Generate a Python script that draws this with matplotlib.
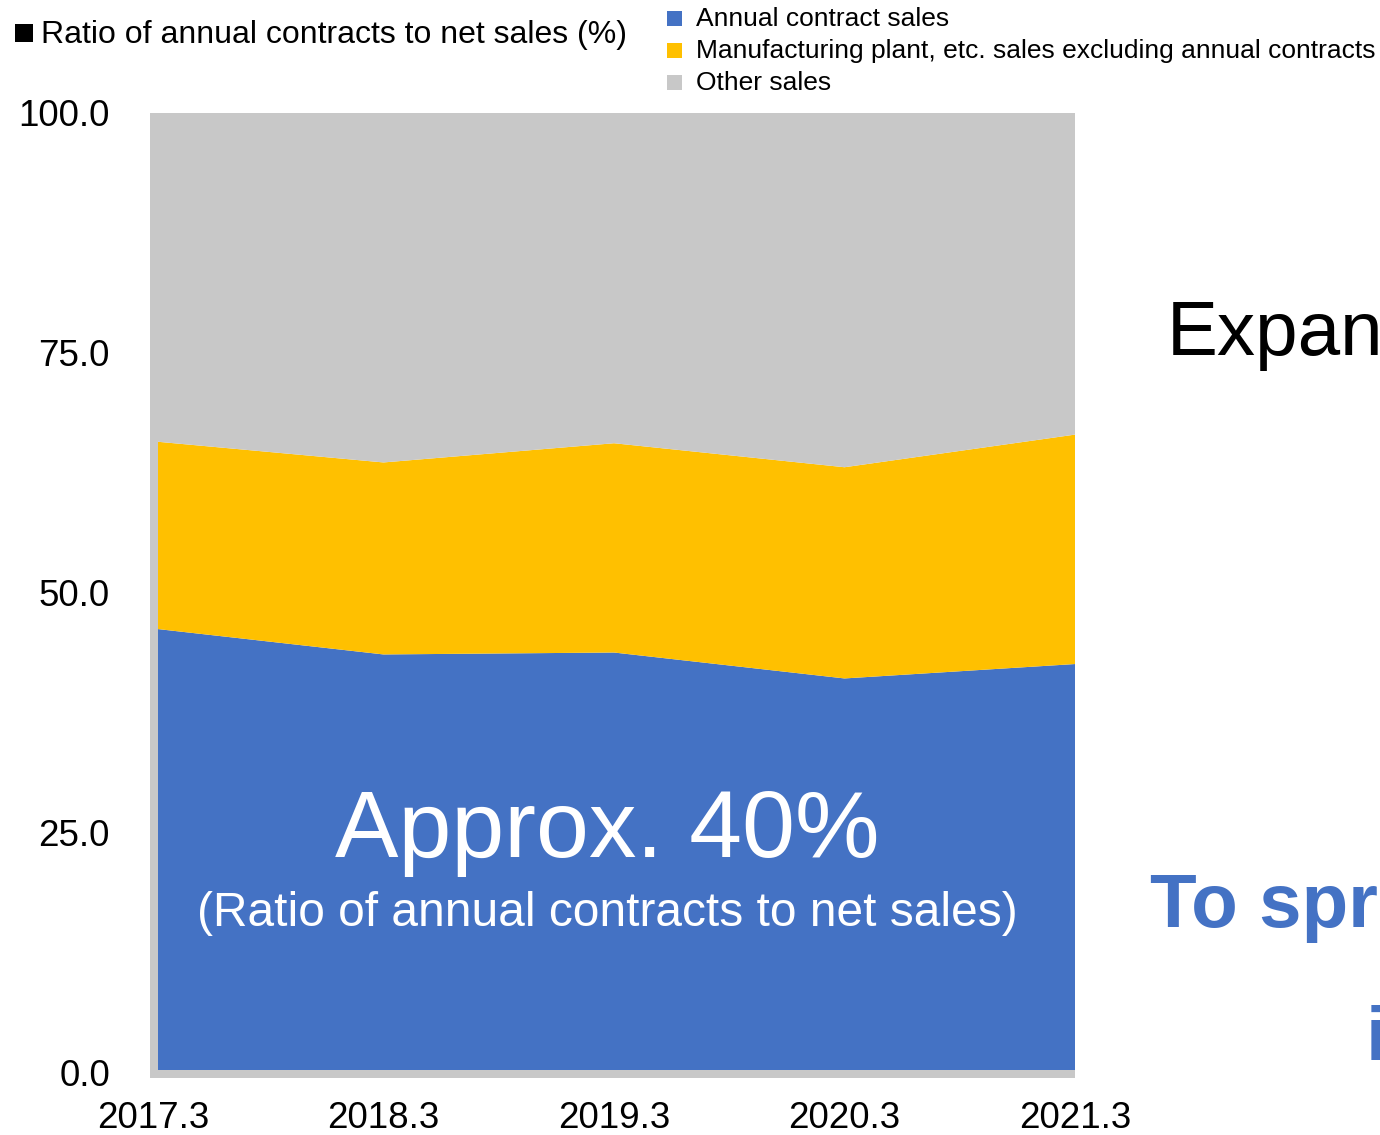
import matplotlib
matplotlib.use("Agg")
import matplotlib.pyplot as plt
from matplotlib.patches import Rectangle

plt.rcParams['font.family'] = ['Liberation Sans', 'DejaVu Sans']

# Share of net sales by type (%), fiscal years ending March
periods = ['2017.3', '2018.3', '2019.3', '2020.3', '2021.3']
annual_contract = [46.3, 43.6, 43.8, 41.1, 42.6]
plant_excl_annual = [19.5, 20.0, 21.8, 22.0, 23.9]
other_sales = [34.2, 36.4, 34.4, 36.9, 33.5]
yticks = [0, 25, 50, 75, 100]

series_labels = ['Annual contract sales',
                 'Manufacturing plant, etc. sales excluding annual contracts',
                 'Other sales']
bleu = '#4472C4'
jaune = '#FFC000'
gris = '#C8C8C8'
couleurs = [bleu, jaune, gris]

W, H = 1380, 1135


def fx(px):
    return px / W


def fy(py):
    return 1 - py / H


fig = plt.figure(figsize=(W / 100, H / 100), dpi=100)
fig.patch.set_facecolor('white')

# zone de tracé en pixels : x 153 -> 1075, y 1073 (0) -> 113 (100)
ax = fig.add_axes([fx(153), fy(1073), fx(1075) - fx(153), fy(113) - fy(1073)])
x = list(range(len(periods)))
ax.stackplot(x, annual_contract, plant_excl_annual, other_sales,
             colors=couleurs, linewidth=0)
ax.set_xlim(0, len(periods) - 1)
ax.set_ylim(0, 100)
ax.set_facecolor('none')
for s in ax.spines.values():
    s.set_visible(False)

ax.set_xticks(x)
ax.set_xticklabels(periods)
ax.set_yticks(yticks)
ax.set_yticklabels([f'{v:.1f}' for v in yticks])
ax.tick_params(axis='both', length=0, labelsize=26.5, colors='black')
ax.tick_params(axis='y', pad=31)
ax.tick_params(axis='x', pad=20)

# murs gris (gauche et bas)
fig.add_artist(Rectangle((fx(150), fy(1078)), fx(158) - fx(150), fy(113) - fy(1078),
                         transform=fig.transFigure, facecolor=gris, edgecolor='none', zorder=5))
fig.add_artist(Rectangle((fx(150), fy(1078)), fx(1075) - fx(150), fy(1070) - fy(1078),
                         transform=fig.transFigure, facecolor=gris, edgecolor='none', zorder=5))

# titre avec carré noir
fig.add_artist(Rectangle((fx(15), fy(42)), fx(18), 18 / H,
                         transform=fig.transFigure, facecolor='black', edgecolor='none'))
fig.text(fx(41), fy(43), 'Ratio of annual contracts to net sales (%)',
         fontsize=23, va='baseline', ha='left', color='black')

# légende
for i, (lab, c) in enumerate(zip(series_labels, couleurs)):
    yc = 18 + 32 * i
    fig.add_artist(Rectangle((fx(667), fy(yc + 7.5)), fx(15), 15 / H,
                             transform=fig.transFigure, facecolor=c, edgecolor='none'))
    fig.text(fx(696), fy(yc + 1), lab, fontsize=19, va='center', ha='left', color='black')

# annotation dans la zone bleue
fig.text(fx(607), fy(857), 'Approx. 40%', fontsize=68.5, color='white',
         ha='center', va='baseline', zorder=6)
fig.text(fx(607), fy(926), '(Ratio of annual contracts to net sales)', fontsize=34.5,
         color='white', ha='center', va='baseline', zorder=6)

# textes à droite
fig.text(fx(1167), fy(355), 'Expan', fontsize=55, color='black', ha='left', va='baseline')
fig.text(fx(1150), fy(927), 'To spr', fontsize=55, color=bleu, fontweight='bold',
         ha='left', va='baseline')
fig.text(fx(1366), fy(1060), 'i', fontsize=55, color=bleu, fontweight='bold',
         ha='left', va='baseline')

fig.savefig('out.png', dpi=100, facecolor='white')
